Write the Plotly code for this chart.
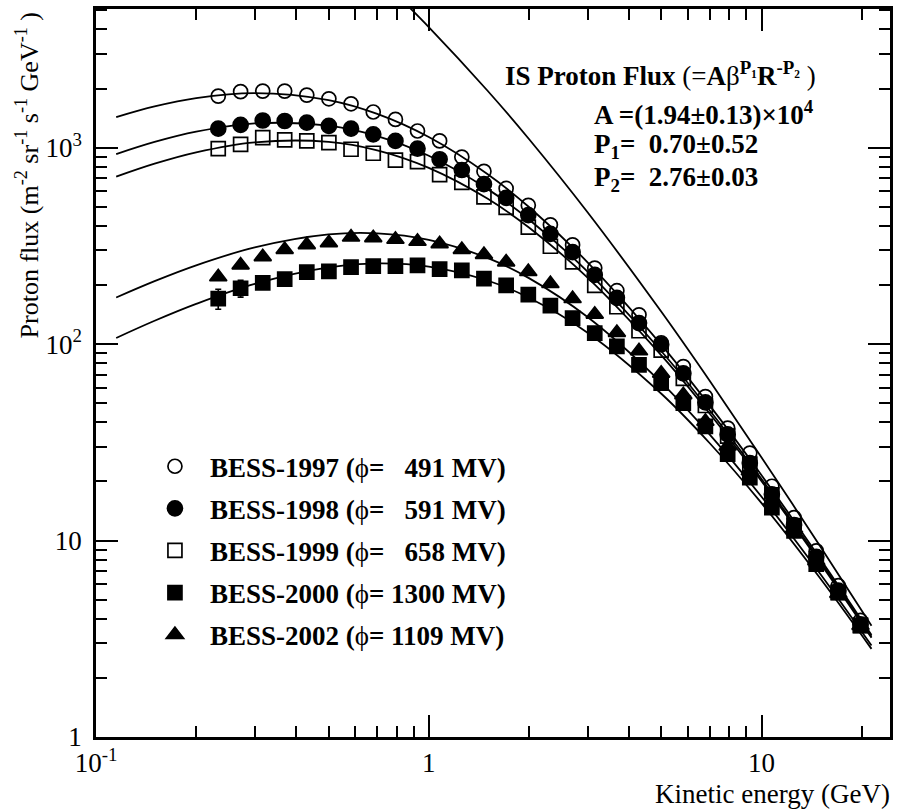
import plotly.graph_objects as go

FONT = "Liberation Serif"

# ---- data points (kinetic energy bin centres, GeV) ----
energy = [0.233, 0.272, 0.317, 0.369, 0.430, 0.501, 0.584, 0.681, 0.794, 0.925,
          1.078, 1.257, 1.465, 1.708, 1.991, 2.320, 2.705, 3.153, 3.675, 4.283,
          4.993, 5.82, 6.78, 7.91, 9.22, 10.74, 12.52, 14.60, 17.01, 19.83]

flux_1997 = [1830, 1929, 1941, 1941, 1852, 1774, 1673, 1519, 1393, 1216,
             1083, 896, 758, 620, 509, 405, 320, 244, 187, 141,
             101.6, 76.8, 54.1, 37.4, 27.9, 18.9, 13.1, 8.87, 5.89, 3.92]
flux_1998 = [1250, 1306, 1375, 1367, 1341, 1290, 1250, 1169, 1083, 990,
             873, 770, 652, 555, 454, 364, 294, 225, 172, 128,
             99.7, 71.0, 50.5, 34.7, 24.8, 17.2, 12.0, 8.27, 5.56, 3.74]
flux_1999 = [990, 1040, 1125, 1097, 1083, 1061, 982, 937, 865, 850,
             729, 666, 562, 497, 394, 315, 262, 199, 155, 117,
             93.3, 67.0, 48.7, 34.0, 24.5, 17.1, 11.9, 8.07, 5.43, 3.70]
flux_2000 = [170.4, 192.5, 205, 214, 232.8, 234.7, 246.8, 249.7, 249.7, 251.7,
             241.1, 237.5, 215.3, 199.3, 178.6, 157.1, 135.6, 113.8, 97.3, 78.4,
             63.2, 50.1, 38.1, 27.5, 20.9, 14.7, 11.2, 7.59, 5.45, 3.69]
err_2000 = [20, 19, 9, 8, 7, 6, 5, 5, 5, 5,
            5, 5, 4, 4, 4, 3, 3, 3, 2.5, 2,
            1.7, 1.4, 1.1, 0.9, 0.7, 0.5, 0.45, 0.35, 0.3, 0.25]
flux_2002 = [219.6, 252.6, 278.3, 302.7, 320.1, 327.7, 350.3, 347.4, 341, 333.1,
             323.9, 302.7, 285.6, 261.6, 233.6, 203.1, 170.4, 141.8, 114.5, 92.3,
             71.0, 55.2, 40.4, 30.2, 22.6, 15.9, 11.5, 7.89, 5.37, 3.69]

# ---- fitted curves ----
energy_curve = [0.115, 0.15, 0.2, 0.3, 0.5, 0.7, 1.0, 1.5, 2.0, 3.0, 5.0, 7.0, 10, 15, 21.4]
fit_1997 = [1431, 1622, 1788, 1897, 1747, 1486, 1133, 735, 499, 261, 99.2, 48.5, 21.5, 8.09, 3.31]
fit_1998 = [927, 1069, 1206, 1329, 1294, 1145, 910, 617, 431, 234, 92.0, 45.8, 20.6, 7.86, 3.24]
fit_1999 = [712, 829, 947, 1065, 1071, 970, 790, 551, 392, 218, 87.6, 44.1, 20.05, 7.70, 3.20]
fit_2000 = [107.5, 131.5, 160.3, 202.6, 245.8, 257.5, 248.3, 210.8, 172.2, 114.4, 55.9, 31.2, 15.5, 6.43, 2.81]
fit_2002 = [172.8, 209.3, 251.9, 310.7, 361.8, 366.6, 339.7, 274.7, 216.8, 137.3, 63.6, 34.5, 16.7, 6.78, 2.92]
energy_lis = [0.8, 1.0, 1.5, 2.0, 3.0, 5.0, 7.0, 10, 15, 21.4]
fit_lis = [6016, 4112, 1955, 1107, 469, 146, 64.7, 26.5, 9.35, 3.68]

labels = ["BESS-1997 ", "BESS-1998 ", "BESS-1999 ", "BESS-2000 ", "BESS-2002 "]
phi_text = ["\u2007 491", "\u2007 591", "\u2007 658", " 1300", " 1109"]

x_ticks = [0.1, 1, 10]
x_ticktext = ["10<sup>-1</sup>", "1", "10"]
y_ticks = [1, 10, 100, 1000]
y_ticktext = ["1", "10", "10<sup>2</sup>", "10<sup>3</sup>"]
x_minor = [0.2, 0.3, 0.4, 0.5, 0.6, 0.7, 0.8, 0.9, 2, 3, 4, 5, 6, 7, 8, 9, 20]
y_minor = [2, 3, 4, 5, 6, 7, 8, 9, 20, 30, 40, 50, 60, 70, 80, 90,
           200, 300, 400, 500, 600, 700, 800, 900, 2000, 3000, 4000, 5000]

fig = go.Figure()

for fit in [fit_1997, fit_1998, fit_1999, fit_2000, fit_2002]:
    fig.add_trace(go.Scatter(x=energy_curve, y=fit, mode="lines",
                             line=dict(color="black", width=1.8, shape="spline"),
                             showlegend=False, hoverinfo="skip"))
fig.add_trace(go.Scatter(x=energy_lis, y=fit_lis, mode="lines",
                         line=dict(color="black", width=1.8, shape="spline"),
                         showlegend=False, hoverinfo="skip"))

series = [
    (flux_1997, "circle-open", 14, None),
    (flux_1998, "circle", 15, None),
    (flux_1999, "square-open", 14, None),
    (flux_2000, "square", 14, err_2000),
    (flux_2002, "triangle-up", 15, None),
]
for i, (vals, sym, size, err) in enumerate(series):
    name = "<b>" + labels[i] + "(</b>\u03d5<b>=" + phi_text[i] + " MV)</b>"
    tr = go.Scatter(x=energy, y=vals, mode="markers", name=name,
                    legendgroup="g%d" % i,
                    marker=dict(symbol=sym, size=size, color="black",
                                line=dict(color="black", width=1.7)))
    if err is not None:
        tr.error_y = dict(type="data", array=err, visible=True, color="black",
                          thickness=1.6, width=3)
    fig.add_trace(tr)

axis_font = dict(family=FONT, size=27, color="black")

fig.update_xaxes(type="log", range=[-1, 1.386], tickmode="array", tickvals=x_ticks,
                 ticktext=x_ticktext, ticks="inside", ticklen=22, tickwidth=2,
                 tickcolor="black", showline=True, linecolor="black", linewidth=2.5,
                 mirror="allticks", showgrid=False, zeroline=False, tickfont=axis_font,
                 ticklabelstandoff=0,
                 minor=dict(tickmode="array", tickvals=x_minor, ticks="inside",
                            ticklen=11, tickwidth=2, tickcolor="black", showgrid=False))
fig.update_yaxes(type="log", range=[0, 3.706], tickmode="array", tickvals=y_ticks,
                 ticktext=y_ticktext, ticks="inside", ticklen=22, tickwidth=2,
                 tickcolor="black", showline=True, linecolor="black", linewidth=2.5,
                 mirror="allticks", showgrid=False, zeroline=False, tickfont=axis_font,
                 ticklabelstandoff=6,
                 minor=dict(tickmode="array", tickvals=y_minor, ticks="inside",
                            ticklen=11, tickwidth=2, tickcolor="black", showgrid=False))

W, H = 899, 811
L, R, T, B = 96, 8, 6, 74
pw, ph = W - L - R, H - T - B


def px(xp):
    return (xp - L) / pw


def py(yp):
    return (H - B - yp) / ph


ann_font = dict(family=FONT, size=27, color="black")
annotations = [
    dict(x=px(893), y=py(794), xref="paper", yref="paper", xanchor="right", yanchor="middle",
         text="Kinetic energy (GeV)", showarrow=False, font=ann_font),
    dict(x=(27 - L) / pw, y=py(173), xref="paper", yref="paper", xanchor="center",
         yanchor="middle", textangle=-90,
         text="Proton flux (m<sup>-2</sup> sr<sup>-1</sup> s<sup>-1</sup> GeV<sup>-1</sup> )",
         showarrow=False, font=dict(family=FONT, size=26, color="black")),
    dict(x=px(504), y=py(71), xref="paper", yref="paper", xanchor="left", yanchor="middle",
         text="<b>IS Proton Flux </b>(=<b>A</b>\u03b2<sup><b>P\u2081</b></sup><b>R</b><sup><b>-P\u2082</b></sup> )",
         showarrow=False, font=ann_font),
    dict(x=px(593), y=py(110), xref="paper", yref="paper", xanchor="left", yanchor="middle",
         text="<b>A =(1.94\u00b10.13)\u00d710<sup>4</sup></b>", showarrow=False, font=ann_font),
    dict(x=px(593), y=py(144), xref="paper", yref="paper", xanchor="left", yanchor="middle",
         text="<b>P<sub>1</sub>=  0.70\u00b10.52</b>", showarrow=False, font=ann_font),
    dict(x=px(593), y=py(177), xref="paper", yref="paper", xanchor="left", yanchor="middle",
         text="<b>P<sub>2</sub>=  2.76\u00b10.03</b>", showarrow=False, font=ann_font),
]

fig.update_layout(
    width=W, height=H,
    margin=dict(l=L, r=R, t=T, b=B),
    paper_bgcolor="white", plot_bgcolor="white",
    font=dict(family=FONT, size=27, color="black"),
    annotations=annotations,
    showlegend=True,
    legend=dict(x=px(140), y=py(441), xanchor="left", yanchor="top",
                bgcolor="rgba(0,0,0,0)", borderwidth=0,
                font=dict(family=FONT, size=27, color="black"),
                traceorder="grouped", tracegroupgap=4, itemsizing="trace",
                itemwidth=60),
)

fig.write_html("out.html", config={"displayModeBar": False},
               post_script="document.body.style.margin='0';")
